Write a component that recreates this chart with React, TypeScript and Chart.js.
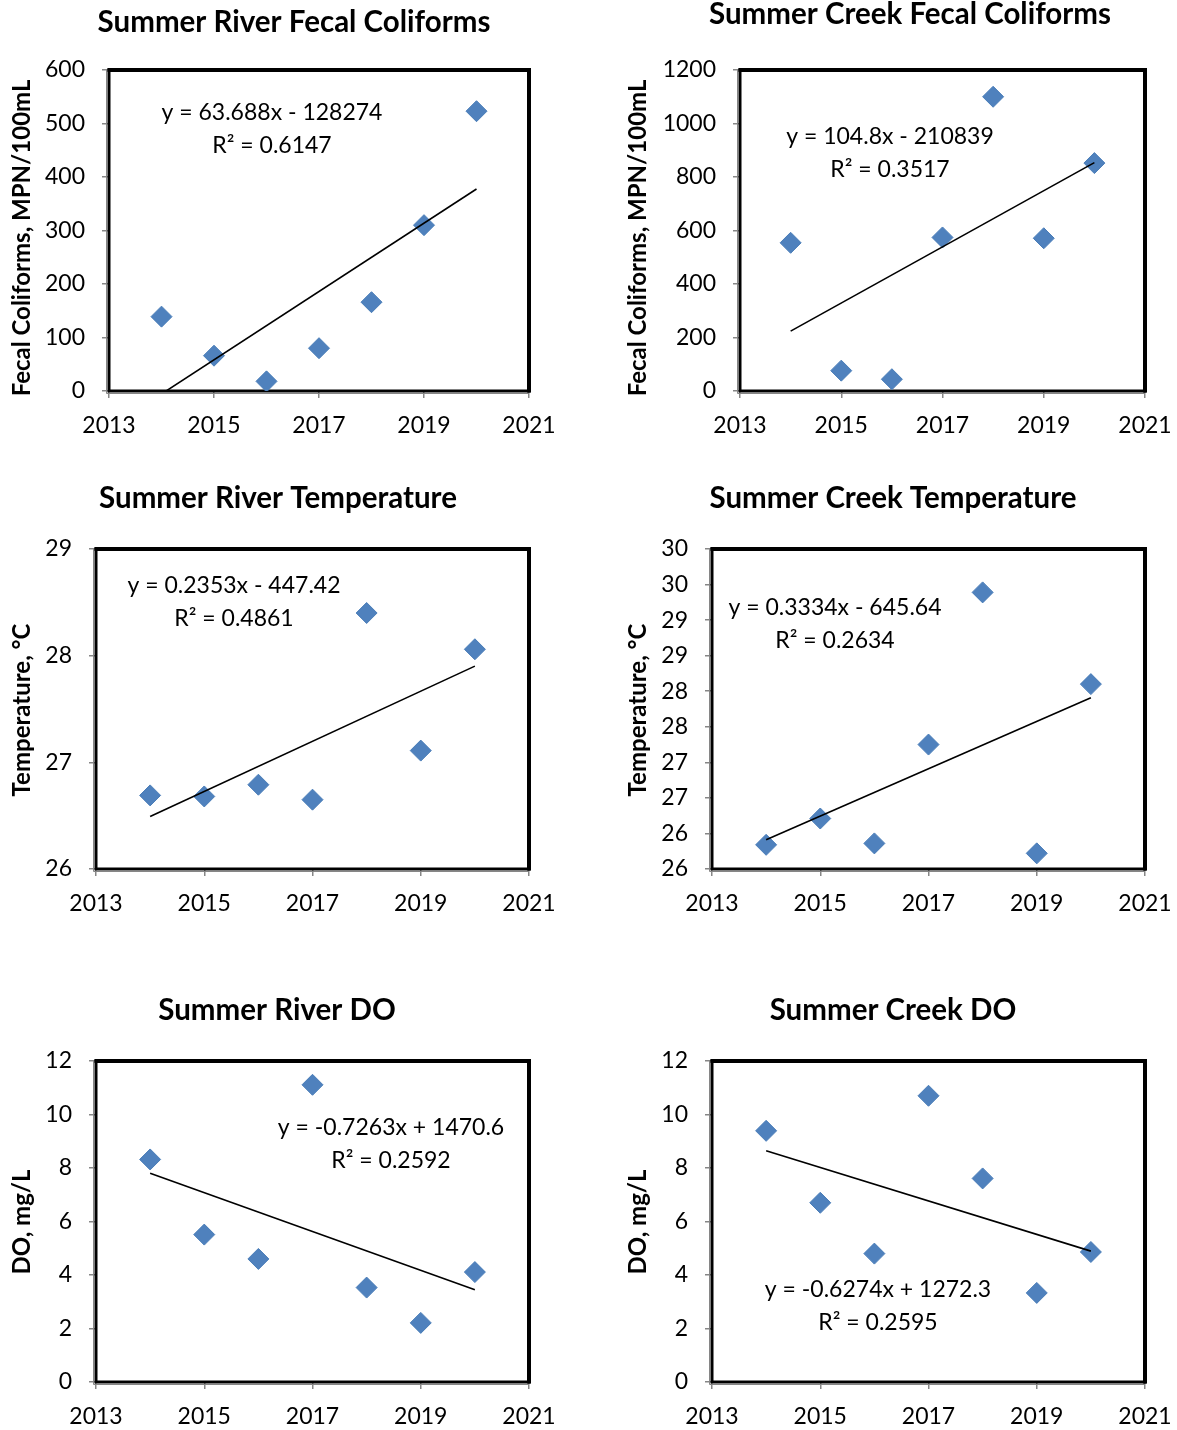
import React, { useEffect, useRef } from 'react';
import { Chart, registerables } from 'chart.js';

Chart.register(...registerables);

// ---------- data ----------
const years = [2014, 2015, 2016, 2017, 2018, 2019, 2020];

const riverFecal = [139, 66, 18, 80, 166, 310, 523];
const creekFecal = [554, 76, 44, 574, 1100, 571, 852];
const riverTemp = [26.69, 26.68, 26.79, 26.65, 28.4, 27.11, 28.06];
const creekTemp = [25.84, 26.21, 25.86, 27.25, 29.39, 25.72, 28.1];
const riverDO = [8.32, 5.51, 4.6, 11.11, 3.53, 2.21, 4.11];
const creekDO = [9.39, 6.7, 4.8, 10.7, 7.61, 3.33, 4.86];

const chartTitles = [
  'Summer River Fecal Coliforms',
  'Summer Creek Fecal Coliforms',
  'Summer River Temperature',
  'Summer Creek Temperature',
  'Summer River DO',
  'Summer Creek DO',
];
const yAxisTitles = [
  'Fecal Coliforms, MPN/100mL',
  'Fecal Coliforms, MPN/100mL',
  'Temperature, \u00B0C',
  'Temperature, \u00B0C',
  'DO, mg/L',
  'DO, mg/L',
];

// coefficients as printed on the charts (labels)
const trendSlopes = [63.688, 104.8, 0.2353, 0.3334, -0.7263, -0.6274];
const trendIntercepts = [-128274, -210839, -447.42, -645.64, 1470.6, 1272.3];
const rSquared = ['0.6147', '0.3517', '0.4861', '0.2634', '0.2592', '0.2595'];

const xMin = 2013;
const xMax = 2021;
const xStep = 2;
const yMins = [0, 0, 26, 25.5, 0, 0];
const yMaxs = [600, 1200, 29, 30, 12, 12];
const ySteps = [100, 200, 1, 0.5, 2, 2];

const seriesList = [riverFecal, creekFecal, riverTemp, creekTemp, riverDO, creekDO];

// ---------- layout (page coordinates) ----------
const canvasBoxes = [
  { x: 0, y: 0, w: 588, h: 450 },
  { x: 588, y: 0, w: 640, h: 450 },
  { x: 0, y: 460, w: 588, h: 480 },
  { x: 588, y: 460, w: 640, h: 480 },
  { x: 0, y: 975, w: 588, h: 455 },
  { x: 588, y: 975, w: 640, h: 455 },
];
const plotAreas = [
  { l: 109, r: 529, t: 70, b: 391 },
  { l: 740, r: 1145, t: 70, b: 391 },
  { l: 96, r: 529, t: 549, b: 869 },
  { l: 712, r: 1145, t: 549, b: 869 },
  { l: 96, r: 529, t: 1061, b: 1382 },
  { l: 712, r: 1145, t: 1061, b: 1382 },
];
const titlePos = [
  { x: 294, y: 22 },
  { x: 910, y: 14 },
  { x: 278, y: 498 },
  { x: 893, y: 498 },
  { x: 277, y: 1010 },
  { x: 893, y: 1010 },
];
const yTitlePos = [
  { x: 22, y: 238 },
  { x: 638, y: 238 },
  { x: 22, y: 710 },
  { x: 638, y: 710 },
  { x: 22, y: 1222 },
  { x: 638, y: 1222 },
];
const eqPos = [
  { x: 272, y: 113 },
  { x: 890, y: 137 },
  { x: 234, y: 586 },
  { x: 835, y: 608 },
  { x: 391, y: 1128 },
  { x: 878, y: 1290 },
];

const FONT = 'Lato, "Open Sans", sans-serif';
const TICK_GRAY = '#868686';
const MARKER_BLUE = '#4F81BD';

function equationText(slope: number, intercept: number): string {
  const sign = intercept < 0 ? '-' : '+';
  return `y = ${slope}x ${sign} ${Math.abs(intercept)}`;
}

// least-squares linear fit of the plotted points (how the trendline is made)
function linearFit(xs: number[], ys: number[]) {
  const n = xs.length;
  const mx = xs.reduce((s, v) => s + v, 0) / n;
  const my = ys.reduce((s, v) => s + v, 0) / n;
  let sxy = 0;
  let sxx = 0;
  for (let i = 0; i < n; i++) {
    sxy += (xs[i] - mx) * (ys[i] - my);
    sxx += (xs[i] - mx) * (xs[i] - mx);
  }
  const m = sxy / sxx;
  return { m, b: my - m * mx };
}

const panelPlugin = {
  id: 'panelDecor',
  beforeDatasetsDraw(chart: any) {
    const { ctx, chartArea: a } = chart;
    ctx.save();
    ctx.strokeStyle = TICK_GRAY;
    ctx.lineWidth = 1;
    ctx.beginPath();
    ctx.moveTo(a.left - 2.5, a.top);
    ctx.lineTo(a.left - 2.5, a.bottom + 2.5);
    ctx.lineTo(a.right, a.bottom + 2.5);
    ctx.stroke();
    ctx.strokeStyle = '#000';
    ctx.lineWidth = 3;
    ctx.strokeRect(a.left, a.top, a.right - a.left, a.bottom - a.top);
    ctx.lineWidth = 4;
    ctx.beginPath();
    ctx.moveTo(a.left - 1.5, a.top);
    ctx.lineTo(a.right, a.top);
    ctx.lineTo(a.right, a.bottom + 1.5);
    ctx.stroke();
    ctx.restore();
  },
  afterDraw(chart: any, _args: any, opts: any) {
    const { ctx } = chart;
    ctx.save();
    ctx.fillStyle = '#000';
    ctx.textAlign = 'center';
    ctx.textBaseline = 'middle';
    ctx.font = `bold 29.5px ${FONT}`;
    ctx.fillText(opts.title, opts.titleX, opts.titleY);
    ctx.font = `23px ${FONT}`;
    ctx.fillText(opts.eq1, opts.eqX, opts.eqY);
    ctx.fillText(opts.eq2, opts.eqX, opts.eqY + 33);
    ctx.translate(opts.yTitleX, opts.yTitleY);
    ctx.rotate(-Math.PI / 2);
    ctx.font = `bold 24px ${FONT}`;
    ctx.fillText(opts.yTitle, 0, 0);
    ctx.restore();
  },
};

function Panel({ idx }: { idx: number }) {
  const ref = useRef<HTMLCanvasElement | null>(null);
  const box = canvasBoxes[idx];

  useEffect(() => {
    if (!ref.current) return;
    const area = plotAreas[idx];
    const series = seriesList[idx];
    const yWidth = area.l - box.x;
    const xHeight = box.y + box.h - area.b;

    const points = years.map((yr, i) => ({ x: yr, y: series[i] }));
    const fit = linearFit(years, series);
    const trendX = [years[0], years[years.length - 1]];
    const trend = trendX.map((x) => ({ x, y: fit.m * x + fit.b }));

    const chart = new Chart(ref.current, {
      type: 'scatter',
      data: {
        datasets: [
          {
            label: 'Linear trend',
            data: trend,
            showLine: true,
            borderColor: '#000',
            borderWidth: 1.6,
            pointRadius: 0,
            pointHoverRadius: 0,
            fill: false,
          },
          {
            label: chartTitles[idx],
            data: points,
            pointStyle: 'rectRot',
            pointRadius: 10.5,
            pointHoverRadius: 10.5,
            backgroundColor: MARKER_BLUE,
            borderColor: '#4A7DB8',
            borderWidth: 1,
          },
        ],
      },
      options: {
        animation: false,
        responsive: false,
        maintainAspectRatio: false,
        events: [],
        layout: {
          padding: {
            left: 0,
            top: area.t - box.y,
            right: box.x + box.w - area.r,
            bottom: 0,
          },
        },
        plugins: {
          legend: { display: false },
          tooltip: { enabled: false },
          title: { display: false },
          panelDecor: {
            title: chartTitles[idx],
            titleX: titlePos[idx].x - box.x,
            titleY: titlePos[idx].y - box.y,
            yTitle: yAxisTitles[idx],
            yTitleX: yTitlePos[idx].x - box.x,
            yTitleY: yTitlePos[idx].y - box.y,
            eq1: equationText(trendSlopes[idx], trendIntercepts[idx]),
            eq2: `R\u00B2 = ${rSquared[idx]}`,
            eqX: eqPos[idx].x - box.x,
            eqY: eqPos[idx].y - box.y,
          },
        } as any,
        scales: {
          x: {
            type: 'linear',
            min: xMin,
            max: xMax,
            afterFit: (scale: any) => {
              scale.height = xHeight;
            },
            ticks: {
              stepSize: xStep,
              autoSkip: false,
              maxRotation: 0,
              padding: 14,
              color: '#000',
              font: { family: FONT, size: 23 },
              callback: (v: any) => String(v),
            },
            grid: {
              drawOnChartArea: false,
              drawTicks: true,
              tickLength: 7,
              color: TICK_GRAY,
              lineWidth: 1.5,
            },
            border: { display: false },
          },
          y: {
            type: 'linear',
            min: yMins[idx],
            max: yMaxs[idx],
            afterFit: (scale: any) => {
              scale.width = yWidth;
            },
            ticks: {
              stepSize: ySteps[idx],
              autoSkip: false,
              padding: 17,
              color: '#000',
              font: { family: FONT, size: 23 },
              callback: (v: any) => String(Math.round(Number(v))),
            },
            grid: {
              drawOnChartArea: false,
              drawTicks: true,
              tickLength: 7,
              color: TICK_GRAY,
              lineWidth: 1.5,
            },
            border: { display: false },
          },
        },
      },
      plugins: [panelPlugin],
    });
    return () => chart.destroy();
  }, [idx]);

  return (
    <canvas
      ref={ref}
      width={box.w}
      height={box.h}
      style={{ position: 'absolute', left: box.x, top: box.y, width: box.w, height: box.h }}
    />
  );
}

export default function App() {
  return (
    <div
      style={{
        position: 'absolute',
        left: 0,
        top: 0,
        width: 1177,
        height: 1430,
        background: '#fff',
        overflow: 'hidden',
      }}
    >
      {chartTitles.map((_, i) => (
        <Panel key={i} idx={i} />
      ))}
    </div>
  );
}
